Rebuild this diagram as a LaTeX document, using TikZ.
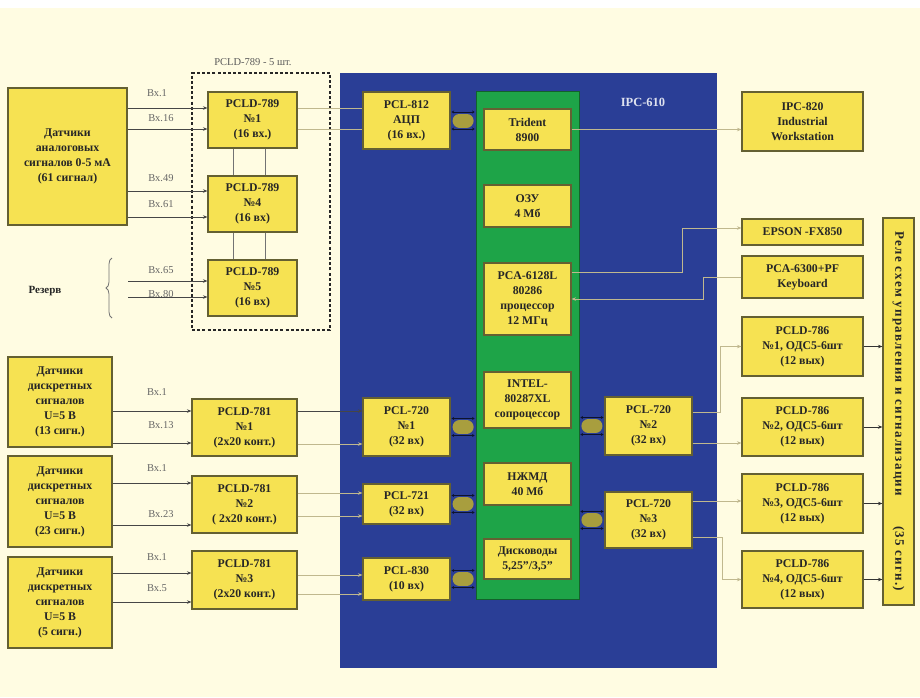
\documentclass[tikz,border=0pt]{standalone}
\usepackage{fontspec}
\setmainfont{Liberation Serif}
\usetikzlibrary{arrows.meta,decorations.pathreplacing}
\definecolor{cream}{RGB}{255,252,226}
\definecolor{ipcblue}{RGB}{42,62,150}
\definecolor{cpugreen}{RGB}{30,164,72}
\definecolor{cardyel}{RGB}{246,226,82}
\definecolor{cardedge}{RGB}{100,96,50}
\definecolor{busol}{RGB}{168,158,62}
\definecolor{lightln}{RGB}{192,184,142}
\definecolor{darkln}{RGB}{70,70,70}
\newcommand\busconn[2]{%
  \draw[line width=14pt, draw=busol, line cap=round, shorten <=9pt, shorten >=9pt] (#1) -- (#2);
  \draw[busmark, transform canvas={yshift=8.5pt}] (#1) -- (#2);
  \draw[busmark, transform canvas={yshift=-8.5pt}] (#1) -- (#2);
}
\begin{document}
\begin{tikzpicture}[x=1pt,y=-1pt,
  card/.style={draw=cardedge, line width=1.1pt, fill=cardyel, align=center,
    font=\bfseries\fontsize{11.8}{15}\selectfont, text=black!85, inner sep=1pt},
  ipcpanel/.style={fill=ipcblue, draw=none, inner sep=0pt},
  cpuboard/.style={fill=cpugreen, draw=cpugreen!60!black, line width=0.8pt, inner sep=0pt},
  grpframe/.style={draw=black!85, line width=1.3pt, dash pattern=on 3pt off 2.2pt, inner sep=0pt},
  grplabel/.style={font=\fontsize{10.5}{12}\selectfont, text=black!65},
  ipclabel/.style={font=\bfseries\fontsize{12.5}{14}\selectfont, text=white!85!ipcblue},
  inlab/.style={font=\fontsize{10.5}{12}\selectfont, text=black!60},
  reslab/.style={font=\bfseries\fontsize{11}{13}\selectfont, text=black!85},
  inarr/.style={draw=darkln, line width=0.8pt, -{Stealth[length=4.5pt,width=3.5pt]}},
  liteln/.style={draw=lightln, line width=0.8pt},
  litearr/.style={liteln, -{Stealth[length=4.5pt,width=3.5pt]}},
  outarr/.style={draw=black!80, line width=0.8pt, -{Stealth[length=4.5pt,width=3.5pt]}},
  joint/.style={draw=black!55, line width=1pt},
  busmark/.style={draw=black!70!ipcblue, line width=0.5pt, shorten <=1pt, shorten >=1pt,
    {Stealth[length=2.5pt,width=3pt]}-{Stealth[length=2.5pt,width=3pt]}},
  bracesty/.style={draw=black!55, line width=0.8pt, decorate, decoration={brace, amplitude=6pt}}
]
\useasboundingbox (0,0) rectangle (920,697);
\fill[cream] (0,0) rectangle (920,697);
\fill[white] (0,0) rectangle (920,8);

% panels
\node[ipcpanel, minimum width=377, minimum height=595] (ipc) at (528.5,370.5) {};
\node[ipclabel] (ipclab) at (643,102) {IPC-610};
\node[cpuboard, minimum width=103, minimum height=508] (cpu) at (527.5,345) {};
\node[grpframe, minimum width=138, minimum height=257] (grp) at (261,201.5) {};
\node[grplabel] (grplab) at (253,62) {PCLD-789 - 5 шт.};

% left: analog
\node[card, minimum width=119, minimum height=137] (an) at (67.5,156.5) {Датчики\\аналоговых\\сигналов 0-5 мА\\(61 сигнал)};
\node[card, minimum width=89, minimum height=56] (p789a) at (252.5,120) {PCLD-789\\№1\\(16 вх.)};
\node[card, minimum width=89, minimum height=56] (p789b) at (252.5,204) {PCLD-789\\№4\\(16 вх)};
\node[card, minimum width=89, minimum height=56] (p789c) at (252.5,288) {PCLD-789\\№5\\(16 вх)};
\node[reslab] (rez) at (45,291) {Резерв};

% left: discrete
\node[card, minimum width=104, minimum height=90] (sa) at (60,402) {Датчики\\дискретных\\сигналов\\U=5 В\\(13 сигн.)};
\node[card, minimum width=104, minimum height=91] (sb) at (60,501.5) {Датчики\\дискретных\\сигналов\\U=5 В\\(23 сигн.)};
\node[card, minimum width=104, minimum height=91] (sc) at (60,602.5) {Датчики\\дискретных\\сигналов\\U=5 В\\(5 сигн.)};
\node[card, minimum width=105, minimum height=57] (p781a) at (244.5,427.5) {PCLD-781\\№1\\(2х20 конт.)};
\node[card, minimum width=105, minimum height=57] (p781b) at (244.5,504.5) {PCLD-781\\№2\\( 2х20 конт.)};
\node[card, minimum width=105, minimum height=58] (p781c) at (244.5,580) {PCLD-781\\№3\\(2х20 конт.)};

% cards in IPC
\node[card, minimum width=87, minimum height=57] (pcl812) at (406.5,120.5) {PCL-812\\АЦП\\(16 вх.)};
\node[card, minimum width=87, minimum height=58] (pcl720a) at (406.5,427) {PCL-720\\№1\\(32 вх)};
\node[card, minimum width=87, minimum height=40] (pcl721) at (406.5,504) {PCL-721\\(32 вх)};
\node[card, minimum width=87, minimum height=42] (pcl830) at (406.5,579) {PCL-830\\(10 вх)};
\node[card, minimum width=87, minimum height=58] (pcl720b) at (648.5,426) {PCL-720\\№2\\(32 вх)};
\node[card, minimum width=87, minimum height=56] (pcl720c) at (648.5,520) {PCL-720\\№3\\(32 вх)};

% cpu board modules
\node[card, minimum width=87, minimum height=41] (trident) at (527.5,129.5) {Trident\\8900};
\node[card, minimum width=87, minimum height=42] (ozu) at (527.5,206) {ОЗУ\\4 Мб};
\node[card, minimum width=87, minimum height=72] (pca) at (527.5,299) {PCA-6128L\\80286\\процессор\\12 МГц};
\node[card, minimum width=87, minimum height=56] (intel) at (527.5,400) {INTEL-\\80287XL\\сопроцессор};
\node[card, minimum width=87, minimum height=42] (hdd) at (527.5,484) {НЖМД\\40 Мб};
\node[card, minimum width=87, minimum height=40] (fdd) at (527.5,559) {Дисководы\\5,25"/3,5"};

% right side
\node[card, minimum width=121, minimum height=59] (ipc820) at (802.5,121.5) {IPC-820\\Industrial\\Workstation};
\node[card, minimum width=121, minimum height=26] (epson) at (802.5,232) {EPSON -FX850};
\node[card, minimum width=121, minimum height=42] (kbd) at (802.5,277) {PCA-6300+PF\\Keyboard};
\node[card, minimum width=121, minimum height=59] (d786a) at (802.5,346.5) {PCLD-786\\№1, ОДС5-6шт\\(12 вых)};
\node[card, minimum width=121, minimum height=58] (d786b) at (802.5,427) {PCLD-786\\№2, ОДС5-6шт\\(12 вых)};
\node[card, minimum width=121, minimum height=59] (d786c) at (802.5,503.5) {PCLD-786\\№3, ОДС5-6шт\\(12 вых)};
\node[card, minimum width=121, minimum height=57] (d786d) at (802.5,579.5) {PCLD-786\\№4, ОДС5-6шт\\(12 вых)};
\node[card, minimum width=31, minimum height=387] (relay) at (898.5,411.5) {};
\node[rotate=-90, font=\bfseries\fontsize{13}{15}\selectfont\addfontfeatures{LetterSpace=10}, text=black!85] (relaytxt) at (relay.center) {Реле схем управления и сигнализации\hspace{30pt}(35 сигн.)};

% joints between PCLD-789 boards
\draw[joint] ([xshift=-19.5pt]p789a.south) -- ([xshift=-19.5pt]p789b.north);
\draw[joint] ([xshift=12.5pt]p789a.south) -- ([xshift=12.5pt]p789b.north);
\draw[joint] ([xshift=-19.5pt]p789b.south) -- ([xshift=-19.5pt]p789c.north);
\draw[joint] ([xshift=12.5pt]p789b.south) -- ([xshift=12.5pt]p789c.north);

% analog inputs
\draw[inarr] (an.east |- 0,108) -- (p789a.west |- 0,108);
\draw[inarr] (an.east |- 0,129) -- (p789a.west |- 0,129);
\draw[inarr] (an.east |- 0,191) -- (p789b.west |- 0,191);
\draw[inarr] (an.east |- 0,217) -- (p789b.west |- 0,217);
\coordinate (rz1) at (128,281);
\coordinate (rz2) at (128,297);
\draw[inarr] (rz1) -- (p789c.west |- rz1);
\draw[inarr] (rz2) -- (p789c.west |- rz2);
\draw[bracesty] (112,318) -- (112,258);
\node[inlab] (l1) at (157,93) {Вх.1};
\node[inlab] (l2) at (161,118) {Вх.16};
\node[inlab] (l3) at (161,178) {Вх.49};
\node[inlab] (l4) at (161,204) {Вх.61};
\node[inlab] (l5) at (161,270) {Вх.65};
\node[inlab] (l6) at (161,294) {Вх.80};

% to PCL-812
\draw[liteln] (p789a.east |- 0,108) -- (pcl812.west |- 0,108);
\draw[liteln] (p789a.east |- 0,129) -- (pcl812.west |- 0,129);

% discrete inputs
\draw[inarr] (sa.east |- 0,411) -- (p781a.west |- 0,411);
\draw[inarr] (sa.east |- 0,443) -- (p781a.west |- 0,443);
\draw[inarr] (sb.east |- 0,483) -- (p781b.west |- 0,483);
\draw[inarr] (sb.east |- 0,525) -- (p781b.west |- 0,525);
\draw[inarr] (sc.east |- 0,573) -- (p781c.west |- 0,573);
\draw[inarr] (sc.east |- 0,602) -- (p781c.west |- 0,602);
\node[inlab] (l7) at (157,392) {Вх.1};
\node[inlab] (l8) at (161,425) {Вх.13};
\node[inlab] (l9) at (157,468) {Вх.1};
\node[inlab] (l10) at (161,514) {Вх.23};
\node[inlab] (l11) at (157,557) {Вх.1};
\node[inlab] (l12) at (157,588) {Вх.5};

% PCLD-781 to PCL cards
\draw[inarr] (p781a.east |- 0,411) -- (pcl720a.west |- 0,411);
\draw[litearr] (p781a.east |- 0,444) -- (pcl720a.west |- 0,444);
\draw[litearr] (p781b.east |- 0,493) -- (pcl721.west |- 0,493);
\draw[litearr] (p781b.east |- 0,516) -- (pcl721.west |- 0,516);
\draw[litearr] (p781c.east |- 0,575) -- (pcl830.west |- 0,575);
\draw[litearr] (p781c.east |- 0,594) -- (pcl830.west |- 0,594);

% buses
\busconn{pcl812.east}{pcl812.east -| cpu.west}
\busconn{pcl720a.east}{pcl720a.east -| cpu.west}
\busconn{pcl721.east}{pcl721.east -| cpu.west}
\busconn{pcl830.east}{pcl830.east -| cpu.west}
\busconn{pcl720b.west -| cpu.east}{pcl720b.west}
\busconn{pcl720c.west -| cpu.east}{pcl720c.west}

% peripherals
\draw[litearr] (trident.east) -- (trident.east -| ipc820.west);
\draw[litearr] (pca.east |- 0,272) -- (682,272) |- (epson.west |- 0,228);
\draw[litearr] (kbd.west) -- (703,277) |- (pca.east);

% PCL-720 #2, #3 to PCLD-786
\draw[litearr] (pcl720b.east |- 0,412) -- (720,412) |- (d786a.west);
\draw[litearr] (pcl720b.east |- 0,443) -- (d786b.west |- 0,443);
\draw[litearr] (pcl720c.east |- 0,501) -- (d786c.west |- 0,501);
\draw[litearr] (pcl720c.east |- 0,537) -- (722,537) |- (d786d.west);

% PCLD-786 to relays
\draw[outarr] (d786a.east) -- (d786a.east -| relay.west);
\draw[outarr] (d786b.east) -- (d786b.east -| relay.west);
\draw[outarr] (d786c.east) -- (d786c.east -| relay.west);
\draw[outarr] (d786d.east) -- (d786d.east -| relay.west);
\end{tikzpicture}
\end{document}
